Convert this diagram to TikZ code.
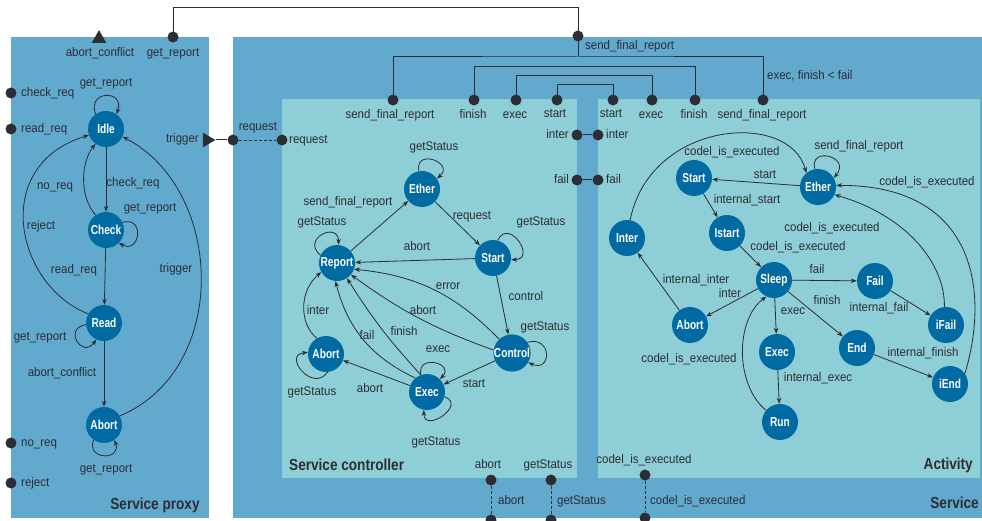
\documentclass[tikz,border=0pt]{standalone}
\usepackage{fontspec}
\setmainfont{Liberation Sans}
\newfontfamily\lblfont[FakeStretch=0.92]{Liberation Sans}
\newfontfamily\stfont[FakeStretch=0.78]{Liberation Sans}
\newfontfamily\ttlfont[FakeStretch=0.85]{Liberation Sans}
\usetikzlibrary{arrows.meta,shapes.geometric}
\definecolor{outerblue}{RGB}{98,169,206}
\definecolor{innerblue}{RGB}{142,206,214}
\definecolor{stateblue}{RGB}{0,106,162}
\definecolor{ink}{RGB}{45,45,52}
\tikzset{
 state/.style={circle, fill=stateblue, minimum size=36pt, inner sep=0pt, text=white, font=\stfont\bfseries\fontsize{13}{13}\selectfont},
 lbl/.style={text=ink, inner sep=0pt, text height=9pt, text depth=2.5pt, font=\lblfont\fontsize{12.5}{12.5}\selectfont},
 ttl/.style={text=ink, inner sep=0pt, font=\ttlfont\bfseries\fontsize{16}{16}\selectfont},
 port/.style={circle, fill=ink, minimum size=11pt, inner sep=0pt},
 tri/.style={regular polygon, regular polygon sides=3, fill=ink, inner sep=0pt, outer sep=0pt, minimum size=17pt},
 tr/.style={-{Stealth[length=6pt,width=4.5pt]}, draw=ink, line width=0.8pt},
 wire/.style={draw=ink, line width=1pt},
 dwire/.style={draw=ink, line width=0.9pt, dash pattern=on 3pt off 2pt},
}
\begin{document}
\begin{tikzpicture}[x=1pt,y=1pt]
\useasboundingbox (0,0) rectangle (982,-521);
\fill[white] (0,0) rectangle (982,-521);
% panels
\fill[outerblue] (11,-37) rectangle (209,-518);
\fill[outerblue] (233,-37) rectangle (982,-518);
\fill[innerblue] (282,-99) rectangle (577,-478);
\fill[innerblue] (598,-99) rectangle (980,-478);

% ---------- Service proxy ----------
\node[state] (pIdle) at (106,-129) {Idle};
\node[state] (pCheck) at (106,-230) {Check};
\node[state] (pRead) at (104,-323) {Read};
\node[state] (pAbort) at (104,-425) {Abort};

\node[tri] (pAbCon) at (99,-38.7) {};
\node[port] (pGetRep) at (173,-37) {};
\node[port] (pChk) at (11,-93) {};
\node[port] (pRd) at (11,-129) {};
\node[port] (pNoReq) at (11,-443) {};
\node[port] (pRej) at (11,-483) {};
\node[tri, shape border rotate=-90] (pTrig) at (207,-140) {};

\draw[tr] (pIdle.125) .. controls +(110:26) and +(70:26) .. (pIdle.55);
\draw[tr] (pIdle) -- (pCheck);
\draw[tr] (pCheck.125) .. controls (78,-195) and (82,-160) .. (pIdle.235);
\draw[tr] (pCheck.25) .. controls +(15:24) and +(-30:24) .. (pCheck.-45);
\draw[tr] (pCheck) -- (pRead);
\draw[tr] (pRead.150) .. controls (15,-285) and (-10,-165) .. (pIdle.200);
\draw[tr] (pRead.185) .. controls +(190:24) and +(235:24) .. (pRead.245);
\draw[tr] (pRead) -- (pAbort);
\draw[tr] (pAbort.30) .. controls (230,-370) and (225,-190) .. (pIdle.-25);
\draw[tr] (pAbort.235) .. controls +(250:22) and +(-70:22) .. (pAbort.-55);

\node[lbl] at (100,-53) {abort\_conflict};
\node[lbl] at (173,-53) {get\_report};
\node[lbl,anchor=west] at (21,-93) {check\_req};
\node[lbl,anchor=west] at (21,-129) {read\_req};
\node[lbl] at (106,-83) {get\_report};
\node[lbl,anchor=east] at (199,-139) {trigger};
\node[lbl] at (133,-183) {check\_req};
\node[lbl] at (55,-186) {no\_req};
\node[lbl] at (41,-226) {reject};
\node[lbl] at (150,-208) {get\_report};
\node[lbl] at (74,-270) {read\_req};
\node[lbl] at (176,-269) {trigger};
\node[lbl] at (40,-337) {get\_report};
\node[lbl] at (62,-373) {abort\_conflict};
\node[lbl] at (106,-469) {get\_report};
\node[lbl,anchor=west] at (21,-443) {no\_req};
\node[lbl,anchor=west] at (21,-483) {reject};
\node[ttl] at (155,-505) {Service proxy};

% ---------- Service ports ----------
\node[port] (sReqOut) at (233,-140) {};
\node[port] (scReqIn) at (282,-140) {};
\node[port] (sFinal) at (578,-36) {};
\node[port] (scSFR) at (393,-100) {};
\node[port] (scFin) at (474,-100) {};
\node[port] (scExe) at (516,-100) {};
\node[port] (scSta) at (557,-100) {};
\node[port] (acSta) at (613,-100) {};
\node[port] (acExe) at (652,-100) {};
\node[port] (acFin) at (695,-100) {};
\node[port] (acSFR) at (763,-100) {};
\node[port] (scInter) at (577,-135) {};
\node[port] (acInter) at (598,-135) {};
\node[port] (scFail) at (577,-180) {};
\node[port] (acFail) at (598,-180) {};
\node[port] (scAbort) at (491,-480) {};
\node[port] (sAbort) at (491,-520) {};
\node[port] (scGet) at (551,-480) {};
\node[port] (sGet) at (551,-520) {};
\node[port] (acCodel) at (645,-475) {};
\node[port] (sCodel) at (645,-518) {};

\coordinate (busA) at (578,-57);
\draw[wire] (pGetRep.center) -- ++(0,29) -| (sFinal.center);
\draw[wire] (sFinal.center) -- (busA);
\draw[wire] (scSFR.center) |- (busA) -| (acSFR.center);
\draw[wire] (scFin.center) -- ++(0,33) -| (acFin.center);
\draw[wire] (scExe.center) -- ++(0,24.5) -| (acExe.center);
\draw[wire] (scSta.center) -- ++(0,15) -| (acSta.center);
\draw[wire] (scInter) -- (acInter);
\draw[wire] (scFail) -- (acFail);
\draw[wire] (pTrig) -- (sReqOut);
\draw[dwire] (sReqOut) -- (scReqIn);
\draw[dwire] (scAbort) -- (sAbort);
\draw[dwire] (scGet) -- (sGet);
\draw[dwire] (acCodel) -- (sCodel);

\node[lbl] at (258,-127) {request};
\node[lbl,anchor=west] at (289,-140) {request};
\node[lbl,anchor=west] at (585,-46) {send\_final\_report};
\node[lbl,anchor=west] at (767,-76) {exec, finish < fail};
\node[lbl] at (390,-115) {send\_final\_report};
\node[lbl] at (473,-115) {finish};
\node[lbl] at (515,-115) {exec};
\node[lbl] at (555,-114) {start};
\node[lbl] at (611,-114) {start};
\node[lbl] at (651,-115) {exec};
\node[lbl] at (694,-115) {finish};
\node[lbl] at (762,-115) {send\_final\_report};
\node[lbl,anchor=east] at (569,-135) {inter};
\node[lbl,anchor=west] at (606,-135) {inter};
\node[lbl,anchor=east] at (569,-180) {fail};
\node[lbl,anchor=west] at (606,-180) {fail};
\node[lbl] at (488,-465) {abort};
\node[lbl] at (548,-465) {getStatus};
\node[lbl,anchor=west] at (498,-501) {abort};
\node[lbl,anchor=west] at (557,-501) {getStatus};
\node[lbl] at (644,-460) {codel\_is\_executed};
\node[lbl,anchor=west] at (650,-501) {codel\_is\_executed};
\node[ttl,anchor=west] at (289,-465) {Service controller};
\node[ttl,anchor=east] at (973,-465) {Activity};
\node[ttl,anchor=east] at (979,-503) {Service};

% ---------- Service controller ----------
\node[state] (sEther) at (422,-189) {Ether};
\node[state] (sStart) at (493,-258) {Start};
\node[state] (sReport) at (337,-263) {Report};
\node[state] (sControl) at (512,-353) {Control};
\node[state] (sAbort) at (326,-354) {Abort};
\node[state] (sExec) at (427,-392) {Exec};

\draw[tr] (sEther.100) .. controls +(100:24) and +(40:24) .. (sEther.35);
\draw[tr] (sReport) -- (sEther);
\draw[tr] (sEther) -- (sStart);
\draw[tr] (sStart.75) .. controls +(65:26) and +(0:26) .. (sStart.-5);
\draw[tr] (sStart) -- (sReport);
\draw[tr] (sReport.155) .. controls +(140:26) and +(90:24) .. (sReport.85);
\draw[tr] (sStart) -- (sControl);
\draw[tr] (sControl.35) .. controls +(15:26) and +(-25:26) .. (sControl.-30);
\draw[tr] (sControl.133) to[bend right=20] (sReport.-20);
\draw[tr] (sControl.171) to[bend left=8] (sReport.-40);
\draw[tr] (sExec.110) to[bend left=5] (sReport.-57);
\draw[tr] (sExec.130) to[bend left=25] (sReport.-95);
\draw[tr] (sAbort.120) .. controls (300,-325) and (298,-292) .. (sReport.210);
\draw[tr] (sExec.110) .. controls +(100:22) and +(45:22) .. (sExec.45);
\draw[tr] (sExec.-15) .. controls +(-20:24) and +(-90:24) .. (sExec.-100);
\draw[tr] (sControl) -- (sExec);
\draw[tr] (sExec) -- (sAbort);
\draw[tr] (sAbort.-85) .. controls +(-125:26) and +(185:26) .. (sAbort.175);

\node[lbl] at (434,-147) {getStatus};
\node[lbl] at (348,-202) {send\_final\_report};
\node[lbl] at (472,-216) {request};
\node[lbl] at (541,-222) {getStatus};
\node[lbl] at (417,-247) {abort};
\node[lbl] at (322,-222) {getStatus};
\node[lbl] at (526,-297) {control};
\node[lbl] at (545,-327) {getStatus};
\node[lbl] at (448,-286) {error};
\node[lbl] at (423,-311) {abort};
\node[lbl] at (404,-332) {finish};
\node[lbl] at (367,-336) {fail};
\node[lbl] at (318,-311) {inter};
\node[lbl] at (438,-349) {exec};
\node[lbl] at (436,-442) {getStatus};
\node[lbl] at (474,-384) {start};
\node[lbl] at (370,-389) {abort};
\node[lbl] at (312,-392) {getStatus};

% ---------- Activity ----------
\node[state] (aStart) at (694,-178) {Start};
\node[state] (aEther) at (818,-187) {Ether};
\node[state] (aInter) at (627,-238) {Inter};
\node[state] (aIstart) at (727,-233) {Istart};
\node[state] (aSleep) at (774,-280) {Sleep};
\node[state] (aFail) at (875,-281) {Fail};
\node[state] (aAbort) at (690,-325) {Abort};
\node[state] (aiFail) at (946,-325) {iFail};
\node[state] (aExec) at (777,-352) {Exec};
\node[state] (aEnd) at (857,-348) {End};
\node[state] (aiEnd) at (950,-384) {iEnd};
\node[state] (aRun) at (780,-422) {Run};

\draw[tr] (aInter.80) .. controls (650,-120) and (790,-110) .. (aEther.130);
\draw[tr] (aEther.100) .. controls +(105:24) and +(50:28) .. (aEther.30);
\draw[tr] (aEther) -- (aStart);
\draw[tr] (aStart) -- (aIstart);
\draw[tr] (aIstart) -- (aSleep);
\draw[tr] (aSleep) -- (aFail);
\draw[tr] (aFail) -- (aiFail);
\draw[tr] (aiFail.95) .. controls (945,-262) and (905,-215) .. (aEther.-25);
\draw[tr] (aiEnd.35) .. controls (990,-290) and (975,-185) .. (aEther.5);
\draw[tr] (aSleep) -- (aAbort);
\draw[tr] (aAbort) -- (aInter);
\draw[tr] (aSleep) -- (aExec);
\draw[tr] (aSleep) -- (aEnd);
\draw[tr] (aEnd) -- (aiEnd);
\draw[tr] (aExec) -- (aRun);
\draw[tr] (aRun.140) .. controls (735,-385) and (735,-320) .. (aSleep.245);

\node[lbl] at (732,-152) {codel\_is\_executed};
\node[lbl] at (859,-146) {send\_final\_report};
\node[lbl] at (765,-175) {start};
\node[lbl] at (747,-200) {internal\_start};
\node[lbl] at (798,-247) {codel\_is\_executed};
\node[lbl] at (817,-270) {fail};
\node[lbl] at (879,-308) {internal\_fail};
\node[lbl] at (832,-228) {codel\_is\_executed};
\node[lbl] at (927,-182) {codel\_is\_executed};
\node[lbl] at (730,-294) {inter};
\node[lbl] at (696,-280) {internal\_inter};
\node[lbl] at (793,-311) {exec};
\node[lbl] at (827,-301) {finish};
\node[lbl] at (923,-353) {internal\_finish};
\node[lbl] at (818,-378) {internal\_exec};
\node[lbl] at (689,-359) {codel\_is\_executed};
\end{tikzpicture}
\end{document}
